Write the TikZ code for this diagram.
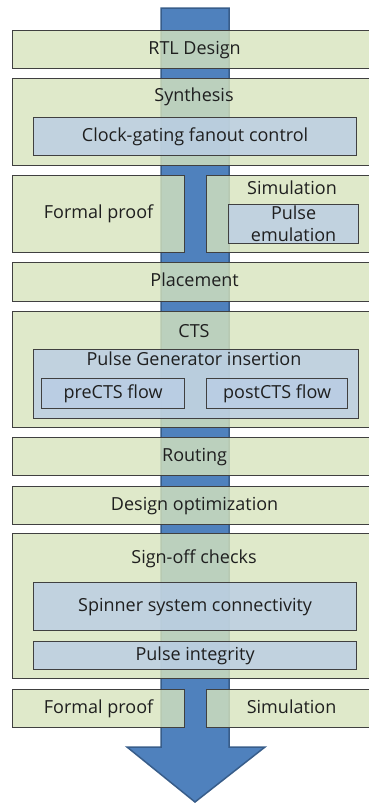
\documentclass[tikz,border=0pt]{standalone}
\usepackage{fontspec}
\setmainfont{Open Sans}
\definecolor{boxgreen}{HTML}{D7E4BD}
\definecolor{boxblue}{HTML}{B9CDE5}
\definecolor{bordergray}{HTML}{404040}
\definecolor{arrowblue}{HTML}{4F81BD}
\definecolor{arrowedge}{HTML}{385D8A}
\definecolor{txt}{HTML}{1F1F1F}
\newcommand\stagefont{\fontsize{18}{22}\selectfont}
\begin{document}
\begin{tikzpicture}[x=1pt,y=-1pt,
  stage/.style={draw=bordergray, line width=1.2pt, fill=boxgreen, fill opacity=0.8,
    draw opacity=1, text opacity=1, inner sep=0pt, anchor=north west,
    font=\stagefont, text=txt, align=center, text height=13pt, text depth=4pt},
  sub/.style={stage, fill=boxblue},
  lbl/.style={font=\stagefont, text=txt, inner sep=0pt, text height=13pt, text depth=4pt},
  flowarrow/.style={fill=arrowblue, draw=arrowedge, line width=1.5pt, line join=miter}]
\useasboundingbox (0,0) rectangle (369,803);
\clip (0,0) rectangle (369,803);
% big arrow
\draw[flowarrow] (161,8) -- (229,8) -- (229,747) -- (265,747) -- (195,802)
  -- (127,747) -- (161,747) -- cycle;
% stages
\node[stage, minimum width=364pt, minimum height=38pt] (rtl) at (12,30) {RTL Design};
\node[stage, minimum width=364pt, minimum height=87pt] (syn) at (12,78) {};
\node[lbl] (synt) at (194,97) {Synthesis};
\node[sub, minimum width=323pt, minimum height=38pt] (cg) at (33,117) {Clock-gating fanout control};
\node[stage, minimum width=172pt, minimum height=77pt] (fp1) at (12,175) {Formal proof};
\node[stage, minimum width=170pt, minimum height=77pt] (sim1) at (206,175) {};
\node[lbl] (sim1t) at (292,190) {Simulation};
\node[sub, minimum width=130pt, minimum height=39pt, text height={}, text depth={}] (pe) at (228,204) {Pulse\\emulation};
\node[stage, minimum width=364pt, minimum height=39pt] (place) at (12,262) {Placement};
\node[stage, minimum width=364pt, minimum height=116pt] (cts) at (12,311) {};
\node[lbl] (ctst) at (194,333) {CTS};
\node[sub, minimum width=325pt, minimum height=69pt] (pgi) at (33,349) {};
\node[lbl] (pgit) at (194,361) {Pulse Generator insertion};
\node[sub, minimum width=143pt, minimum height=30pt] (pre) at (41,378) {preCTS flow};
\node[sub, minimum width=141pt, minimum height=30pt] (post) at (206,378) {postCTS flow};
\node[stage, minimum width=364pt, minimum height=38pt] (rout) at (12,437) {Routing};
\node[stage, minimum width=364pt, minimum height=38pt] (dopt) at (12,486) {Design optimization};
\node[stage, minimum width=364pt, minimum height=145pt] (soc) at (12,533) {};
\node[lbl] (soct) at (194,559) {Sign-off checks};
\node[sub, minimum width=323pt, minimum height=48pt] (spin) at (33,582) {Spinner system connectivity};
\node[sub, minimum width=323pt, minimum height=28pt] (pint) at (33,641) {Pulse integrity};
\node[stage, minimum width=172pt, minimum height=38pt] (fp2) at (12,689) {Formal proof};
\node[stage, minimum width=170pt, minimum height=38pt] (sim2) at (206,689) {Simulation};
\end{tikzpicture}
\end{document}
